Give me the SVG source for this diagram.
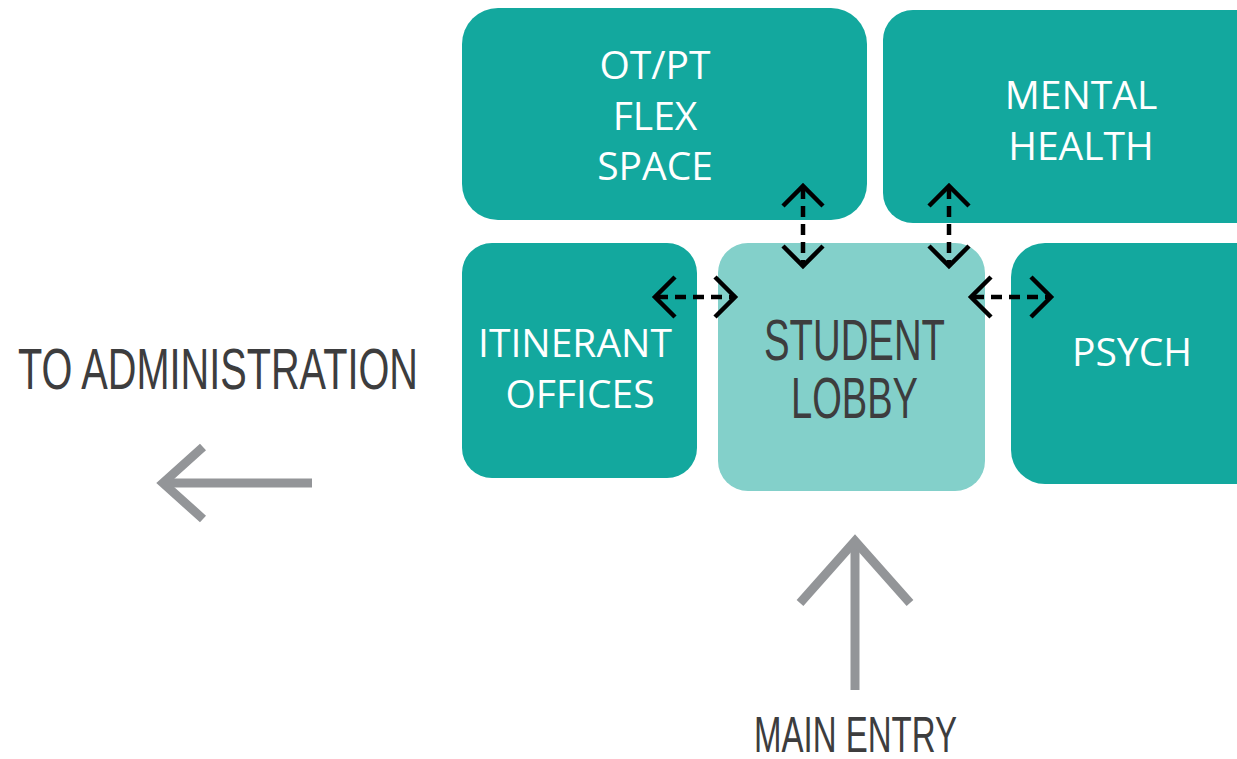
<svg xmlns="http://www.w3.org/2000/svg" width="1237" height="759" viewBox="0 0 1237 759">
<style>
.room{fill:#13A89E}
.lobby{fill:#83D0CA}
.wt{fill:#ffffff;font-family:"Open Sans","Noto Sans",sans-serif;font-size:39px;text-anchor:middle}
.dk{fill:#3d3d3e;font-family:"Liberation Sans Narrow","Liberation Sans",sans-serif}
.dash{fill:none;stroke:#000;stroke-width:4.5;stroke-dasharray:11 7}
.head{fill:none;stroke:#000;stroke-width:4.5}
.gray{fill:none;stroke:#939598;stroke-width:9}
</style>
<rect width="1237" height="759" fill="#ffffff"/>
<g id="otpt">
<rect class="room" x="462" y="8" width="405" height="212" rx="36"/>
<text class="wt" x="655" y="79">OT/PT</text>
<text class="wt" x="655" y="130">FLEX</text>
<text class="wt" x="655" y="180">SPACE</text>
</g>
<g id="mental">
<rect class="room" x="883" y="10" width="400" height="213" rx="30"/>
<text class="wt" x="1081" y="109">MENTAL</text>
<text class="wt" x="1081" y="160">HEALTH</text>
</g>
<g id="itinerant">
<rect class="room" x="462" y="243" width="235" height="235" rx="30"/>
<text class="wt" x="575" y="357">ITINERANT</text>
<text class="wt" x="580" y="408">OFFICES</text>
</g>
<g id="lobby">
<rect class="lobby" x="718" y="243" width="267" height="248" rx="30"/>
<text class="dk" x="764" y="360" font-size="57" textLength="181" lengthAdjust="spacingAndGlyphs">STUDENT</text>
<text class="dk" x="791" y="418" font-size="57" textLength="127" lengthAdjust="spacingAndGlyphs">LOBBY</text>
</g>
<g id="psych">
<rect class="room" x="1011" y="243" width="270" height="241" rx="34"/>
<text class="wt" x="1132" y="366">PSYCH</text>
</g>
<g id="admin">
<text class="dk" x="18" y="389" font-size="58" textLength="400" lengthAdjust="spacingAndGlyphs">TO ADMINISTRATION</text>
</g>
<g id="entry">
<text class="dk" x="754" y="752" font-size="50" textLength="203" lengthAdjust="spacingAndGlyphs">MAIN ENTRY</text>
</g>
<g id="connectors">
<line class="dash" x1="803" y1="188" x2="803" y2="264"/>
<polyline class="head" points="783,206 803,186 823,206"/>
<polyline class="head" points="783,246 803,266 823,246"/>
<line class="dash" x1="949" y1="188" x2="949" y2="264"/>
<polyline class="head" points="929,206 949,186 969,206"/>
<polyline class="head" points="929,246 949,266 969,246"/>
<line class="dash" x1="657" y1="297" x2="733" y2="297"/>
<polyline class="head" points="675,277 655,297 675,317"/>
<polyline class="head" points="715,277 735,297 715,317"/>
<line class="dash" x1="973" y1="297" x2="1049" y2="297"/>
<polyline class="head" points="991,277 971,297 991,317"/>
<polyline class="head" points="1031,277 1051,297 1031,317"/>
<line class="gray" x1="312" y1="483" x2="163" y2="483"/>
<polyline class="gray" points="203,447 163,483 203,519"/>
<line class="gray" x1="855" y1="690" x2="855" y2="541"/>
<polyline class="gray" points="800,603 855,541 910,603"/>
</g>
</svg>
